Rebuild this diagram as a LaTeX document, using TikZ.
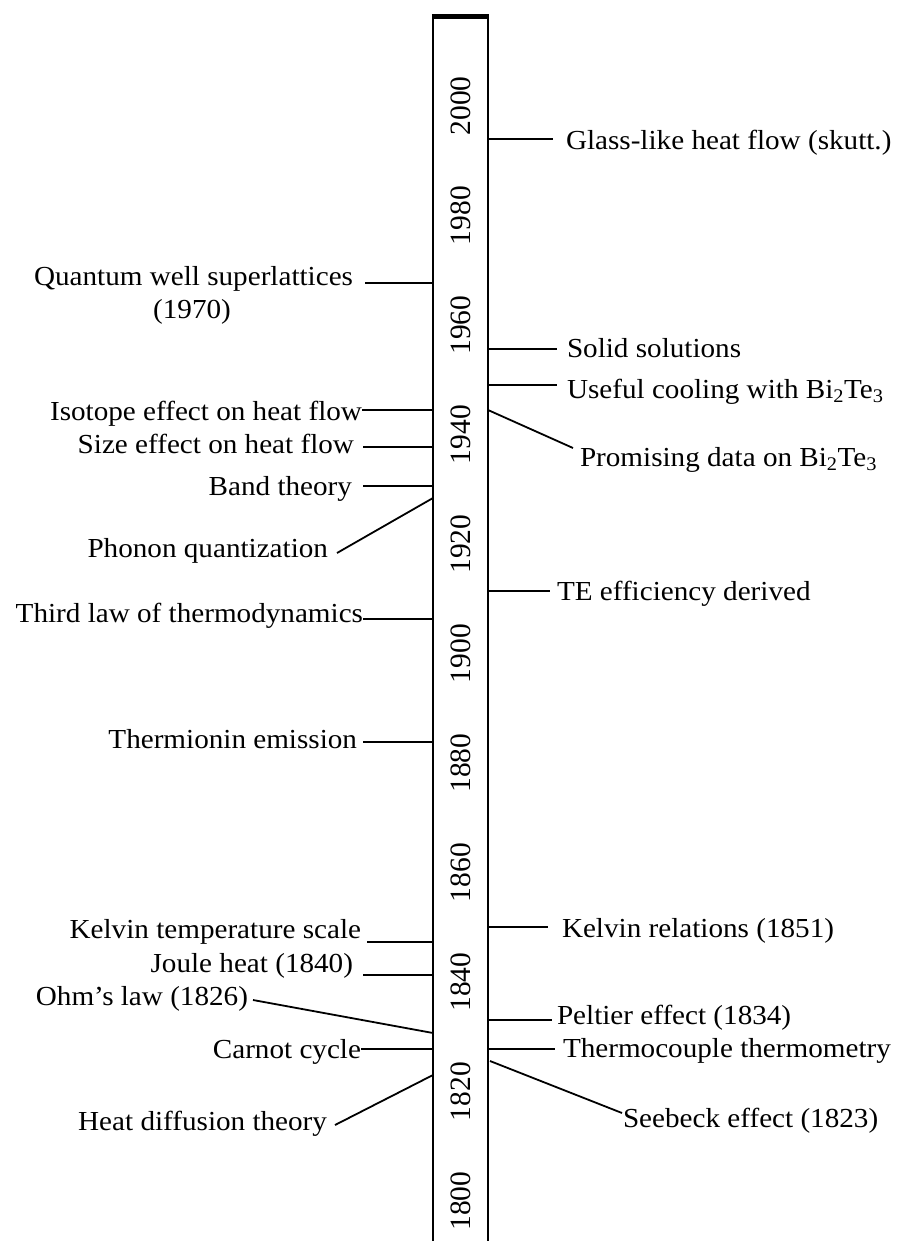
\documentclass[tikz,border=0pt]{standalone}
\usepackage{fontspec}
\setmainfont{Liberation Serif}[FakeStretch=1.06]
\newfontfamily\yearfont{Liberation Serif}
\usetikzlibrary{calc}
\begin{document}
\begin{tikzpicture}[x=1pt,y=-1pt,
  lbl/.style={inner sep=0pt, outer sep=0pt, font=\fontsize{27.5}{33}\selectfont},
  yr/.style={inner sep=0pt, outer sep=0pt, rotate=90, font=\yearfont\fontsize{29.5}{35}\selectfont},
  thintick/.style={line width=1.3pt},
  thicktick/.style={line width=2.2pt},
  slant/.style={line width=1.8pt},
  barline/.style={line width=2.5pt}]

\useasboundingbox (0,0) rectangle (899,1241);

% the time bar
\draw[barline] (433,1260) -- (433,16.5) -- (488,16.5) -- (488,1260);
\draw[line width=4.5pt] (431.8,16.5) -- (489.2,16.5);

% year marks inside the bar
\foreach \k/\yr in {0/1800,1/1820,2/1840,3/1860,4/1880,5/1900,6/1920,7/1940,8/1960,9/1980,10/2000}
  \node[yr] (y\yr) at (461,{1201-109.5*\k}) {\yr};

% attachment points on the left edge of the bar
\coordinate (tQW)     at (433,283);
\coordinate (tIso)    at (433,410);
\coordinate (tSize)   at (433,447);
\coordinate (tBand)   at (433,486);
\coordinate (tPho)    at (433,498);
\coordinate (tThird)  at (433,619);
\coordinate (tTherm)  at (433,742);
\coordinate (tKelT)   at (433,942);
\coordinate (tJoule)  at (433,975);
\coordinate (tOhm)    at (433,1033);
\coordinate (tCarnot) at (433,1049);
\coordinate (tHeat)   at (433,1075);

% attachment points on the right edge of the bar
\coordinate (tGlass)  at (488,139);
\coordinate (tSolid)  at (488,349);
\coordinate (tUseful) at (488,385);
\coordinate (tProm)   at (488,410);
\coordinate (tTE)     at (488,591);
\coordinate (tKelR)   at (488,927);
\coordinate (tPelt)   at (488,1020);
\coordinate (tThermo) at (488,1049);
\coordinate (tSee)    at (490,1061);

% left-hand events
\node[lbl, anchor=base east] (qw)     at (353,285)  {Quantum well superlattices};
\node[lbl, anchor=base]      (qwyr)   at (192,318)  {(1970)};
\node[lbl, anchor=base east] (iso)    at (362,420)  {Isotope effect on heat flow};
\node[lbl, anchor=base east] (size)   at (354,453)  {Size effect on heat flow};
\node[lbl, anchor=base east] (band)   at (352,495)  {Band theory};
\node[lbl, anchor=base east] (pho)    at (328,557)  {Phonon quantization};
\node[lbl, anchor=base east] (third)  at (363,622)  {Third law of thermodynamics};
\node[lbl, anchor=base east] (therm)  at (357,748)  {Thermionin emission};
\node[lbl, anchor=base east] (kelt)   at (361,938)  {Kelvin temperature scale};
\node[lbl, anchor=base east] (joule)  at (353,972)  {Joule heat (1840)};
\node[lbl, anchor=base east] (ohm)    at (248,1005) {Ohm’s law (1826)};
\node[lbl, anchor=base east] (carnot) at (361,1058) {Carnot cycle};
\node[lbl, anchor=base east] (heat)   at (327,1130) {Heat diffusion theory};

\draw[thicktick] ($(tQW -| qw.east)+(12,0)$)       -- (tQW);
\draw[thintick]  (tIso -| iso.east)                -- (tIso);
\draw[thintick]  ($(tSize -| size.east)+(9,0)$)    -- (tSize);
\draw[thicktick] ($(tBand -| band.east)+(11,0)$)   -- (tBand);
\draw[slant]     ($(pho.base east)+(9,-4)$)        -- (tPho);
\draw[thintick]  (tThird -| third.east)            -- (tThird);
\draw[thicktick] ($(tTherm -| therm.east)+(6,0)$)  -- (tTherm);
\draw[thicktick] ($(tKelT -| kelt.east)+(6,0)$)    -- (tKelT);
\draw[thintick]  ($(tJoule -| joule.east)+(10,0)$) -- (tJoule);
\draw[slant]     ($(ohm.base east)+(5,-5)$)        -- (tOhm);
\draw[thintick]  (tCarnot -| carnot.east)          -- (tCarnot);
\draw[slant]     ($(heat.base east)+(8,-5)$)       -- (tHeat);

% right-hand events
\node[lbl, anchor=base west] (glass)  at (566,150)  {Glass-like heat flow (skutt.)};
\node[lbl, anchor=base west] (solid)  at (567,357)  {Solid solutions};
\node[lbl, anchor=base west] (useful) at (567,398)  {Useful cooling with Bi\textsubscript{2}Te\textsubscript{3}};
\node[lbl, anchor=base west] (prom)   at (580,466)  {Promising data on Bi\textsubscript{2}Te\textsubscript{3}};
\node[lbl, anchor=base west] (te)     at (557,600)  {TE efficiency derived};
\node[lbl, anchor=base west] (kelr)   at (562,937)  {Kelvin relations (1851)};
\node[lbl, anchor=base west] (pelt)   at (557,1024) {Peltier effect (1834)};
\node[lbl, anchor=base west] (thermo) at (563,1057) {Thermocouple thermometry};
\node[lbl, anchor=base west] (see)    at (623,1127) {Seebeck effect (1823)};

\draw[thintick]  (tGlass)  -- ($(tGlass -| glass.west)+(-13,0)$);
\draw[thintick]  (tSolid)  -- ($(tSolid -| solid.west)+(-10,0)$);
\draw[thintick]  (tUseful) -- ($(tUseful -| useful.west)+(-10,0)$);
\draw[slant]     (tProm)   -- ($(prom.base west)+(-7,-18)$);
\draw[thicktick] (tTE)     -- ($(tTE -| te.west)+(-7,0)$);
\draw[thintick]  (tKelR)   -- ($(tKelR -| kelr.west)+(-14,0)$);
\draw[thicktick] (tPelt)   -- ($(tPelt -| pelt.west)+(-5,0)$);
\draw[thintick]  (tThermo) -- ($(tThermo -| thermo.west)+(-8,0)$);
\draw[slant]     (tSee)    -- ($(see.base west)+(-1,-14)$);
\end{tikzpicture}
\end{document}
